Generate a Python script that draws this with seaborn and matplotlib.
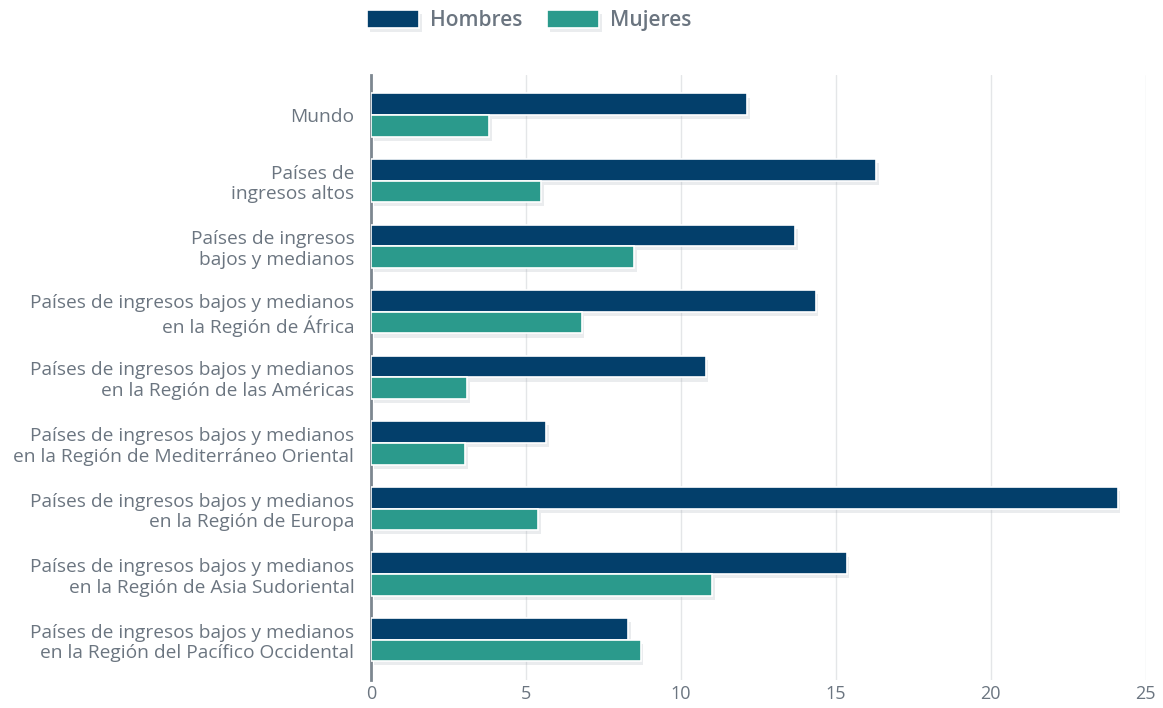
import numpy as np
import pandas as pd
import matplotlib.pyplot as plt
import matplotlib.patheffects as pe
import seaborn as sns

# datos
regiones = [
    "Mundo",
    "Países de\ningresos altos",
    "Países de ingresos\nbajos y medianos",
    "Países de ingresos bajos y medianos\nen la Región de África",
    "Países de ingresos bajos y medianos\nen la Región de las Américas",
    "Países de ingresos bajos y medianos\nen la Región de Mediterráneo Oriental",
    "Países de ingresos bajos y medianos\nen la Región de Europa",
    "Países de ingresos bajos y medianos\nen la Región de Asia Sudoriental",
    "Países de ingresos bajos y medianos\nen la Región del Pacífico Occidental",
]
hombres = [12.15, 16.3, 13.7, 14.35, 10.8, 5.65, 24.1, 15.35, 8.3]
mujeres = [3.8, 5.5, 8.5, 6.8, 3.1, 3.05, 5.4, 11.0, 8.7]
xticks = [0, 5, 10, 15, 20, 25]

df = pd.DataFrame({
    "region": regiones * 2,
    "valor": hombres + mujeres,
    "sexo": ["Hombres"] * len(regiones) + ["Mujeres"] * len(regiones),
})

sns.set_style("white")
plt.rcParams['font.family'] = ['Open Sans', 'DejaVu Sans']
gris = "#6b7580"

fig = plt.figure(figsize=(11.63, 7.08), dpi=100)
ax = fig.add_axes([0.319, 0.04, 0.666, 0.854])

sns.barplot(data=df, y="region", x="valor", hue="sexo", orient="h",
            palette={"Hombres": "#033f6b", "Mujeres": "#2b9a8c"}, saturation=1,
            width=0.66, edgecolor="white", linewidth=1.2, ax=ax, zorder=3)

for p in ax.patches:
    p.set_path_effects([pe.SimplePatchShadow(offset=(2, -3), shadow_rgbFace="#9aa3ad", alpha=0.2),
                        pe.Normal()])

ax.set_xlim(0, 25)
ax.set_ylim(len(regiones) - 0.39, -0.61)
ax.set_xticks(xticks)
ax.xaxis.grid(True, color="#e4e6e8", linewidth=1, zorder=0)
ax.yaxis.grid(False)
for s in ["top", "right", "bottom"]:
    ax.spines[s].set_visible(False)
ax.spines["left"].set_color("#7d8790")
ax.spines["left"].set_linewidth(2)
ax.tick_params(axis="both", length=0, colors=gris)
ax.tick_params(axis="x", labelsize=13)
ax.tick_params(axis="y", pad=12, labelsize=13.8)
ax.set_xlabel("")
ax.set_ylabel("")
for lbl in ax.get_yticklabels():
    lbl.set_horizontalalignment("right")
    lbl.set_linespacing(1.2)
    lbl.set_y(lbl.get_position()[1])

leg = ax.legend(loc="upper center", bbox_to_anchor=(0.455, 1.013), bbox_transform=fig.transFigure,
                ncol=2, frameon=False, fontsize=15, labelcolor=gris, handlelength=2.5,
                handleheight=1.0, columnspacing=1.2, handletextpad=0.5)
for t in leg.get_texts():
    t.set_fontweight("semibold")

fig.savefig("out.png", dpi=100, facecolor="white")
